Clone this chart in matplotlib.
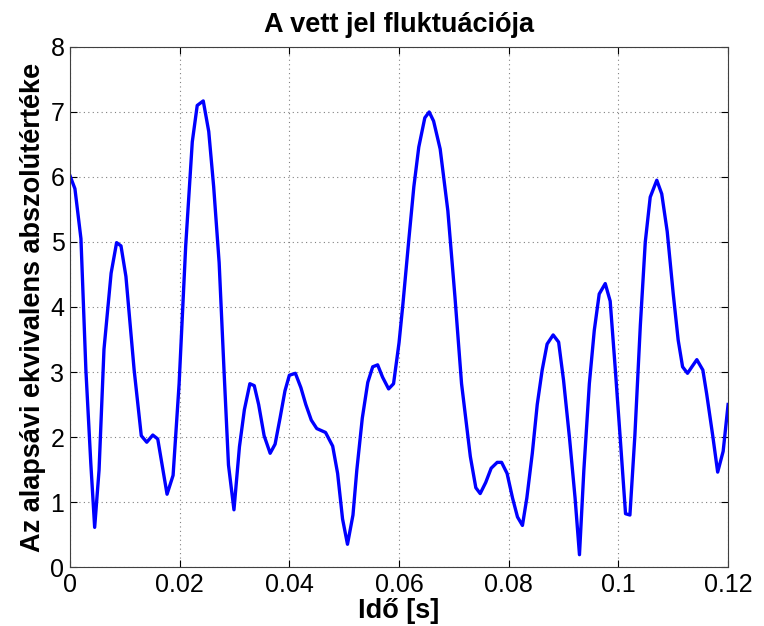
import matplotlib
matplotlib.use("Agg")
import matplotlib.pyplot as plt

# időpontok [s] és az alapsávi ekvivalens abszolútértéke
t = [0.0000, 0.0009, 0.0020, 0.0029, 0.0038, 0.0045, 0.0053, 0.0062, 0.0075, 0.0085,
     0.0093, 0.0102, 0.0117, 0.0130, 0.0140, 0.0151, 0.0160, 0.0177, 0.0188, 0.0199,
     0.0211, 0.0223, 0.0232, 0.0243, 0.0253, 0.0262, 0.0272, 0.0281, 0.0289, 0.0299,
     0.0309, 0.0318, 0.0328, 0.0336, 0.0344, 0.0354, 0.0365, 0.0374, 0.0383, 0.0392,
     0.0400, 0.0411, 0.0421, 0.0430, 0.0440, 0.0450, 0.0466, 0.0479, 0.0488, 0.0497,
     0.0506, 0.0516, 0.0523, 0.0533, 0.0543, 0.0552, 0.0561, 0.0570, 0.0581, 0.0590,
     0.0600, 0.0607, 0.0618, 0.0627, 0.0636, 0.0647, 0.0655, 0.0663, 0.0675, 0.0689,
     0.0702, 0.0714, 0.0730, 0.0740, 0.0748, 0.0758, 0.0768, 0.0779, 0.0787, 0.0797,
     0.0807, 0.0816, 0.0825, 0.0833, 0.0843, 0.0852, 0.0861, 0.0870, 0.0881, 0.0891,
     0.0900, 0.0911, 0.0921, 0.0929, 0.0937, 0.0947, 0.0956, 0.0965, 0.0976, 0.0985,
     0.0994, 0.1003, 0.1013, 0.1021, 0.1030, 0.1040, 0.1049, 0.1058, 0.1070, 0.1079,
     0.1089, 0.1100, 0.1109, 0.1117, 0.1126, 0.1134, 0.1143, 0.1154, 0.1161, 0.1172,
     0.1181, 0.1191, 0.1200]
amp = [6.02, 5.82, 5.05, 3.03, 1.59, 0.61, 1.49, 3.35, 4.52, 4.99,
       4.94, 4.47, 3.03, 2.02, 1.92, 2.03, 1.97, 1.12, 1.41, 2.82,
       4.94, 6.54, 7.10, 7.17, 6.70, 5.85, 4.68, 3.00, 1.57, 0.88,
       1.85, 2.42, 2.82, 2.79, 2.50, 2.02, 1.75, 1.89, 2.29, 2.71,
       2.95, 2.98, 2.76, 2.50, 2.26, 2.13, 2.07, 1.86, 1.44, 0.74,
       0.35, 0.80, 1.49, 2.29, 2.84, 3.08, 3.11, 2.92, 2.74, 2.82,
       3.45, 4.04, 5.05, 5.85, 6.46, 6.91, 7.00, 6.86, 6.43, 5.48,
       4.15, 2.82, 1.70, 1.22, 1.13, 1.30, 1.52, 1.61, 1.61, 1.44,
       1.06, 0.77, 0.64, 1.06, 1.75, 2.50, 3.03, 3.43, 3.57, 3.46,
       2.87, 1.97, 1.06, 0.19, 1.49, 2.82, 3.64, 4.20, 4.36, 4.09,
       3.08, 2.02, 0.82, 0.80, 2.02, 3.72, 5.00, 5.69, 5.95, 5.74,
       5.16, 4.20, 3.49, 3.08, 2.98, 3.08, 3.19, 3.03, 2.66, 2.02,
       1.46, 1.78, 2.50]

xticks = [0, 0.02, 0.04, 0.06, 0.08, 0.1, 0.12]
xticklabels = ["0", "0.02", "0.04", "0.06", "0.08", "0.1", "0.12"]
yticks = [0, 1, 2, 3, 4, 5, 6, 7, 8]

plt.rcParams["font.family"] = ["Liberation Sans", "DejaVu Sans"]

fig = plt.figure(figsize=(7.64, 6.26), dpi=100)
ax = fig.add_axes([0.0916, 0.0942, 0.8614, 0.8308])

ax.plot(t, amp, color=(0, 0, 1), linewidth=2.4)

ax.set_xlim(0, 0.12)
ax.set_ylim(0, 8)
ax.set_xticks(xticks)
ax.set_xticklabels(xticklabels)
ax.set_yticks(yticks)
ax.tick_params(direction="in", top=True, right=True, labelsize=18, length=5, pad=4)

ax.grid(True, linestyle=(0, (1, 3)), color="#808080", linewidth=0.8)
for s in ax.spines.values():
    s.set_color("#404040")
    s.set_linewidth(0.8)

ax.set_title("A vett jel fluktuációja", fontsize=19.5, fontweight="bold", pad=11)
ax.set_xlabel("Idő [s]", fontsize=19.5, fontweight="bold", labelpad=1)
ax.set_ylabel("Az alapsávi ekvivalens abszolútértéke", fontsize=19.5, fontweight="bold", labelpad=3)

fig.savefig("out.png", dpi=100)
